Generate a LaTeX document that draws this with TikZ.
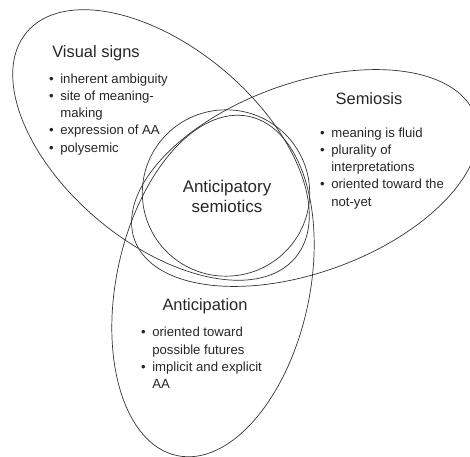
\documentclass[tikz,border=0pt]{standalone}
\usepackage{fontspec}
\setmainfont{Liberation Sans}
\usepackage{tikz}
\usetikzlibrary{shapes.geometric}

\begin{document}
\begin{tikzpicture}[x=1bp, y=1bp,
            venn/.style={ellipse, draw=black!80, line width=0.7bp, inner sep=0pt}, % outline of one set
            heading/.style={font=\fontsize{16.5}{21}\selectfont, text=black!85, align=center, anchor=base}, % set names
            points/.style={font=\fontsize{13.2}{17.3}\selectfont, text=black!85, inner sep=0pt, anchor=north west} % bullet lists
            ]
        \useasboundingbox (0,0) rectangle (470,-457);

            % the three sets and the overlap
            \node[venn, minimum width=352, minimum height=196, rotate=-40] (visual) at (161,-145) {};
            \node[venn, minimum width=364, minimum height=190, rotate=20] (semiosis) at (305,-178) {};
            \node[venn, minimum width=194, minimum height=348, rotate=-12] (anticipation) at (213,-286) {};
            \node[venn, minimum width=168, minimum height=167] (core) at (226,-193) {};

            % names (base = last line)
            \node[heading] (visualname) at (96,-58) {Visual signs};
            \node[heading] (semiosisname) at (369,-105) {Semiosis};
            \node[heading] (anticipationname) at (205,-310) {Anticipation};
            \node[heading, font=\fontsize{17}{20.5}\selectfont] (corename) at (227,-213) {Anticipatory\\semiotics};

            % what each set holds
            \node[points] (visuallist) at (49,-70.9) {\begin{tabular}{@{}l@{\hspace{6.5bp}}l@{}}
                \textbullet & inherent ambiguity\\
                \textbullet & site of meaning-\\
                            & making\\
                \textbullet & expression of AA\\
                \textbullet & polysemic
            \end{tabular}};
            \node[points] (semiosislist) at (320,-125) {\begin{tabular}{@{}l@{\hspace{6.5bp}}l@{}}
                \textbullet & meaning is fluid\\
                \textbullet & plurality of\\
                            & interpretations\\
                \textbullet & oriented toward the\\
                            & not-yet
            \end{tabular}};
            \node[points] (anticipationlist) at (141,-324.5) {\begin{tabular}{@{}l@{\hspace{6.5bp}}l@{}}
                \textbullet & oriented toward\\
                            & possible futures\\
                \textbullet & implicit and explicit\\
                            & AA
            \end{tabular}};

\end{tikzpicture}
\end{document}
